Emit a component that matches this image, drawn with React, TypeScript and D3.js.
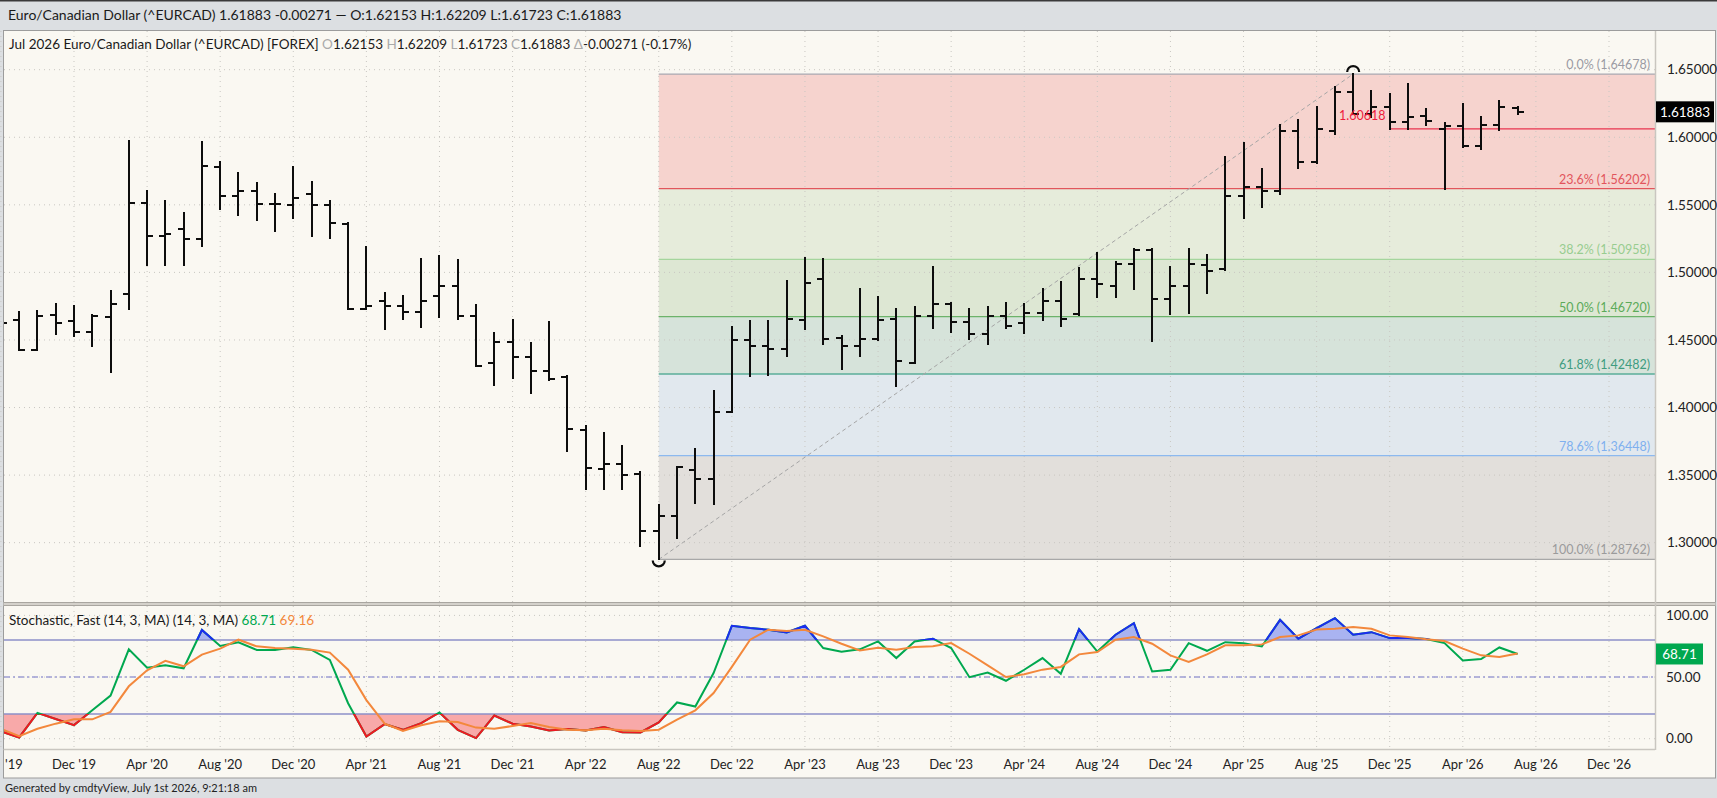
import React from 'react';
import * as d3 from 'd3';

// monthly bars, Aug 2019 .. Jul 2026
const firstBar = new Date(Date.UTC(2019, 7, 1));
const afterLastBar = new Date(Date.UTC(2026, 7, 1));

const openP = [
  1.4700, 1.4650, 1.4429, 1.4687, 1.4638, 1.4557, 1.4670, 1.4842, 1.5512, 1.5266, 1.5320, 1.5249,
  1.5783, 1.5567, 1.5606, 1.5505, 1.5500, 1.5581, 1.5500, 1.5360, 1.4729, 1.4786, 1.4754, 1.4704,
  1.4823, 1.4897, 1.4680, 1.4328, 1.4488, 1.4372, 1.4273, 1.4224, 1.3837, 1.3547, 1.3581, 1.3507,
  1.3089, 1.3197, 1.3535, 1.3468, 1.3966, 1.4499, 1.4454, 1.4435, 1.4647, 1.4949, 1.4516, 1.4454,
  1.4504, 1.4652, 1.4331, 1.4677, 1.4769, 1.4632, 1.4541, 1.4677, 1.4627, 1.4697, 1.4788, 1.4689,
  1.4954, 1.4900, 1.5060, 1.5168, 1.4800, 1.4900, 1.5055, 1.5023, 1.5566, 1.5633, 1.5603, 1.6043,
  1.5820, 1.6048, 1.6337, 1.6171, 1.6221, 1.6110, 1.6159, 1.6060, 1.6085, 1.5937, 1.6092, 1.62153,
];
const highP = [
  1.4760, 1.4704, 1.4711, 1.4766, 1.4749, 1.4687, 1.4860, 1.5975, 1.5606, 1.5525, 1.5443, 1.5968,
  1.5818, 1.5734, 1.5665, 1.5581, 1.5778, 1.5672, 1.5532, 1.5365, 1.5187, 1.4845, 1.4823, 1.5099,
  1.5118, 1.5094, 1.4759, 1.4552, 1.4648, 1.4478, 1.4635, 1.4232, 1.3867, 1.3810, 1.3714, 1.3522,
  1.3276, 1.3559, 1.3695, 1.4126, 1.4594, 1.4640, 1.4640, 1.4937, 1.5110, 1.5098, 1.4533, 1.4880,
  1.4820, 1.4731, 1.4746, 1.5043, 1.4776, 1.4731, 1.4746, 1.4776, 1.4764, 1.4880, 1.4929, 1.5036,
  1.5146, 1.5079, 1.5172, 1.5172, 1.5040, 1.5173, 1.5130, 1.5855, 1.5961, 1.5764, 1.6092, 1.6127,
  1.6226, 1.6369, 1.64678, 1.6344, 1.6320, 1.6394, 1.6208, 1.6102, 1.6245, 1.6152, 1.6270, 1.62209,
];
const lowP = [
  1.4560, 1.4429, 1.4429, 1.4547, 1.4532, 1.4453, 1.4264, 1.4729, 1.5052, 1.5057, 1.5057, 1.5197,
  1.5468, 1.5426, 1.5389, 1.5310, 1.5399, 1.5266, 1.5256, 1.4729, 1.4729, 1.4584, 1.4655, 1.4599,
  1.4668, 1.4655, 1.4305, 1.4170, 1.4217, 1.4108, 1.4204, 1.3682, 1.3399, 1.3394, 1.3399, 1.2975,
  1.28762, 1.3034, 1.3296, 1.3288, 1.3966, 1.4237, 1.4242, 1.4385, 1.4583, 1.4467, 1.4286, 1.4385,
  1.4500, 1.4162, 1.4326, 1.4590, 1.4558, 1.4504, 1.4467, 1.4590, 1.4553, 1.4647, 1.4603, 1.4682,
  1.4818, 1.4815, 1.4875, 1.4492, 1.4690, 1.4700, 1.4850, 1.5015, 1.5400, 1.5484, 1.5578, 1.5776,
  1.5813, 1.6023, 1.6171, 1.6151, 1.60618, 1.6062, 1.6092, 1.56202, 1.5929, 1.5912, 1.6053, 1.61723,
];
const closeP = [
  1.4626, 1.4429, 1.4675, 1.4626, 1.4557, 1.4675, 1.4766, 1.5512, 1.5266, 1.5286, 1.5246, 1.5788,
  1.5567, 1.5606, 1.5505, 1.5505, 1.5549, 1.5500, 1.5369, 1.4729, 1.4749, 1.4752, 1.4704, 1.4791,
  1.4897, 1.4675, 1.4305, 1.4488, 1.4372, 1.4273, 1.4212, 1.3842, 1.3552, 1.3581, 1.3503, 1.3089,
  1.3197, 1.3559, 1.3473, 1.3966, 1.4500, 1.4454, 1.4430, 1.4657, 1.4924, 1.4509, 1.4454, 1.4504,
  1.4647, 1.4343, 1.4677, 1.4769, 1.4632, 1.4541, 1.4677, 1.4603, 1.4697, 1.4788, 1.4657, 1.4954,
  1.4912, 1.5060, 1.5168, 1.4800, 1.4900, 1.5059, 1.5010, 1.5566, 1.5633, 1.5603, 1.6043, 1.5820,
  1.6060, 1.6337, 1.6171, 1.6221, 1.6110, 1.6147, 1.6122, 1.6085, 1.5937, 1.6092, 1.6226, 1.61883,
];

// Stochastic fast (14,3,MA): %K and %D
const stochK = [
  6, 1, 21, 16, 11, 23, 35, 72.5, 57.6, 59.5, 57.1, 88.2,
  75.2, 78.2, 72, 72, 74.1, 72, 63.9, 28.8, 1.8, 11.8, 7.2, 12.6,
  21.3, 7.2, 0.5, 18.8, 12.1, 9.9, 6.7, 7.8, 6.7, 9.4, 5.3, 5.1,
  13.2, 29.4, 26.1, 53.2, 91.6, 89.7, 88.4, 86.2, 91.6, 73.5, 70.5, 72.5,
  78.9, 65.4, 78.9, 81.1, 73.5, 49.9, 53.7, 47.0, 55.9, 65.4, 52.7, 88.8,
  70.7, 84.3, 93.7, 54.5, 55.9, 77.5, 71.3, 78.3, 77.5, 74.8, 96.4, 81.1,
  89.7, 97.8, 84.3, 86.4, 81.6, 81.6, 80.8, 77.5, 63.5, 64.6, 74.0, 68.71,
];
const stochD = [
  8, 2, 8.1, 12.2, 15.7, 15.7, 21.7, 42.5, 55.5, 63.1, 58.7, 68.2,
  73.0, 80.3, 74.9, 73.6, 73.0, 72.2, 69.8, 56, 31.3, 12.2, 6.3, 10.9,
  14.1, 13.6, 9, 8.1, 10.3, 12.7, 9.5, 7.3, 6.8, 8.1, 6.8, 6.3,
  7.3, 15.4, 23, 37, 58.2, 80.3, 88.4, 87.3, 88.4, 83, 77, 71.6,
  73.8, 72.2, 74.3, 74.9, 77.6, 68.9, 59.5, 50.0, 52.2, 56, 58.2, 68.4,
  70.3, 80.3, 82.4, 77, 67.6, 62.2, 68.4, 75.7, 75.7, 76.5, 82.4, 83.8,
  88.6, 89.2, 90.5, 89.2, 83.8, 82.4, 80.6, 79.2, 73, 67.6, 66.3, 69.16,
];

const xTickLabels = [
  "Aug '19", "Dec '19", "Apr '20", "Aug '20", "Dec '20", "Apr '21", "Aug '21", "Dec '21",
  "Apr '22", "Aug '22", "Dec '22", "Apr '23", "Aug '23", "Dec '23", "Apr '24", "Aug '24",
  "Dec '24", "Apr '25", "Aug '25", "Dec '25", "Apr '26", "Aug '26", "Dec '26",
];
const priceTicks = [1.30, 1.35, 1.40, 1.45, 1.50, 1.55, 1.60, 1.65];
const stochTicks = [0, 50, 100];

const fibLevels = [0, 0.236, 0.382, 0.5, 0.618, 0.786, 1];
const fibLow = 1.28762;
const fibHigh = 1.64678;
const fibLowMonth = '2022-08';
const fibHighMonth = '2025-10';
const markLevel = 1.60618;
const markMonth = '2025-12';

const fibLineColors = ['#a8a8b2', '#e2555c', '#a5d59d', '#6cb36a', '#5aae98', '#8cb9ef', '#a8a8a8'];
const fibTextColors = ['#9b9ba3', '#e2555c', '#98cc90', '#5baa59', '#3f9c80', '#7fb0ee', '#9b9b9b'];
const fibFills = ['#f6d3ce', '#e6ecdb', '#dde7d3', '#d6e3da', '#e1e8ee', '#e2dfdb'];

const W = 1717;
const H = 798;
const plotL = 4;
const plotR = 1655;
const priceTop = 31;
const priceBottom = 602;
const stochTop = 606;
const stochBottom = 749;
const frameBottom = 778;

const font = 'Lato, "Open Sans", sans-serif';

const monthIdx = (d: Date) => (d.getUTCFullYear() - 2019) * 12 + d.getUTCMonth() - 11; // Dec 2019 = 0
const keyIdx = (k: string) => monthIdx(new Date(k + '-01T00:00:00Z'));

const App = () => {
  const barDates = d3.utcMonth.range(firstBar, afterLastBar);
  const bars = barDates.map((d, i) => ({
    i: monthIdx(d), o: openP[i], h: highP[i], l: lowP[i], c: closeP[i], k: stochK[i], dd: stochD[i],
  }));

  const x = d3.scaleLinear().domain([0, 84]).range([74, 1609]);
  const y = d3.scaleLinear().domain([1.65, 1.35]).range([69.7, 475.1]);
  const ys = d3.scaleLinear().domain([0, 100]).range([738.7, 615.4]);

  const tickIdx = xTickLabels.map((_, i) => -4 + i * 4);

  const fibPrices = fibLevels.map((lv) => fibHigh - lv * (fibHigh - fibLow));
  const fibX0 = x(keyIdx(fibLowMonth));

  const kLine = d3.line<any>().x((d) => x(d.i)).y((d) => ys(d.k));
  const dLine = d3.line<any>().x((d) => x(d.i)).y((d) => ys(d.dd));
  const lowArea = d3.area<any>().x((d) => x(d.i)).y0(ys(20)).y1((d) => ys(d.k));
  const highArea = d3.area<any>().x((d) => x(d.i)).y0(ys(80)).y1((d) => ys(d.k));

  const last = bars[bars.length - 1];
  const lowX = x(keyIdx(fibLowMonth));
  const highX = x(keyIdx(fibHighMonth));
  const arc = d3.arc();
  const cup = arc({ innerRadius: 6, outerRadius: 6, startAngle: Math.PI / 2, endAngle: Math.PI * 1.5 }) as string;
  const cap = arc({ innerRadius: 6, outerRadius: 6, startAngle: -Math.PI / 2, endAngle: Math.PI / 2 }) as string;

  const dotted = { stroke: '#c9c7c2', strokeWidth: 1, strokeDasharray: '1 4' };

  return (
    <svg width={W} height={H} style={{ position: 'absolute', left: 0, top: 0, display: 'block' }} fontFamily={font}>
      <defs>
        <clipPath id="pclip"><rect x={plotL} y={priceTop} width={plotR - plotL} height={priceBottom - priceTop} /></clipPath>
        <clipPath id="sclip"><rect x={plotL} y={stochTop} width={plotR - plotL} height={stochBottom - stochTop} /></clipPath>
        <clipPath id="below20"><rect x={plotL} y={ys(20)} width={plotR - plotL} height={stochBottom - ys(20)} /></clipPath>
        <clipPath id="above80"><rect x={plotL} y={stochTop} width={plotR - plotL} height={ys(80) - stochTop} /></clipPath>
        <clipPath id="xclip"><rect x={plotL} y={stochBottom} width={plotR - plotL} height={frameBottom - stochBottom} /></clipPath>
      </defs>

      {/* page chrome */}
      <rect x={0} y={0} width={W} height={H} fill="#dcdfe2" />
      <rect x={0} y={0} width={W} height={1.5} fill="#3a3a3a" />
      <text x={8} y={20} fontSize={14} fill="#1a1a1a">
        Euro/Canadian Dollar (^EURCAD) 1.61883 -0.00271 — O:1.62153 H:1.62209 L:1.61723 C:1.61883
      </text>
      <rect x={3.5} y={priceTop - 0.5} width={W - 5} height={frameBottom - priceTop + 0.5} fill="#faf8f2" stroke="#9c9c9c" />

      {/* fibonacci bands */}
      <g clipPath="url(#pclip)">
        {fibFills.map((f, i) => (
          <rect key={i} x={fibX0} y={y(fibPrices[i])} width={plotR - fibX0} height={y(fibPrices[i + 1]) - y(fibPrices[i])} fill={f} />
        ))}
      </g>

      {/* grid */}
      {priceTicks.map((p) => (
        <line key={p} x1={plotL} x2={plotR} y1={y(p)} y2={y(p)} {...dotted} />
      ))}
      {stochTicks.map((v) => (
        <line key={v} x1={plotL} x2={plotR} y1={ys(v)} y2={ys(v)} {...dotted} />
      ))}
      {tickIdx.map((t) => (
        <g key={t}>
          <line x1={x(t)} x2={x(t)} y1={priceTop} y2={priceBottom} {...dotted} />
          <line x1={x(t)} x2={x(t)} y1={stochTop} y2={stochBottom} {...dotted} />
        </g>
      ))}

      {/* fibonacci lines + labels */}
      <g clipPath="url(#pclip)">
        {fibPrices.map((p, i) => (
          <g key={i}>
            <line x1={fibX0} x2={plotR} y1={y(p)} y2={y(p)} stroke={fibLineColors[i]} strokeWidth={1.3} />
            <text x={plotR - 5} y={y(p) - 5} textAnchor="end" fontSize={12.5} fill={fibTextColors[i]}>
              {`${(fibLevels[i] * 100).toFixed(1)}% (${p.toFixed(5)})`}
            </text>
          </g>
        ))}
        <line x1={lowX} y1={y(fibLow)} x2={highX} y2={y(fibHigh)} stroke="#a5a5a5" strokeWidth={1} strokeDasharray="4 3" />
        <line x1={x(keyIdx(markMonth))} x2={plotR} y1={y(markLevel)} y2={y(markLevel)} stroke="#e8354f" strokeWidth={1.2} />
      </g>

      {/* OHLC bars */}
      <g clipPath="url(#pclip)" stroke="#0d0d0d" strokeWidth={2}>
        {bars.map((b) => {
          const cx = Math.round(x(b.i));
          const yo = Math.round(y(b.o));
          const yc = Math.round(y(b.c));
          return (
            <g key={b.i}>
              <line x1={cx} x2={cx} y1={Math.round(y(b.h)) - 1} y2={Math.round(y(b.l)) + 1} />
              <line x1={cx - 6} x2={cx} y1={yo} y2={yo} />
              <line x1={cx} x2={cx + 6} y1={yc} y2={yc} />
            </g>
          );
        })}
        <path d={cup} transform={`translate(${lowX},${y(fibLow) + 1})`} fill="none" strokeWidth={2.2} />
        <path d={cap} transform={`translate(${highX},${y(fibHigh) - 2})`} fill="none" strokeWidth={2.2} />
      </g>
      <text x={(highX + x(keyIdx(fibHighMonth) + 1)) / 2} y={120} textAnchor="middle" fontSize={12.5} fill="#ee1c3c">
        {markLevel.toFixed(5)}
      </text>

      {/* subtitle */}
      <text x={9} y={48.5} fontSize={13.5} fill="#1a1a1a">
        Jul 2026 Euro/Canadian Dollar (^EURCAD) [FOREX]{' '}
        <tspan fill="#aaa">O</tspan>{last.o.toFixed(5)}{' '}
        <tspan fill="#aaa">H</tspan>{last.h.toFixed(5)}{' '}
        <tspan fill="#aaa">L</tspan>{last.l.toFixed(5)}{' '}
        <tspan fill="#aaa">C</tspan>{last.c.toFixed(5)}{' '}
        <tspan fill="#aaa">Δ</tspan>-0.00271 (-0.17%)
      </text>

      {/* panel separators */}
      <rect x={3.5} y={priceBottom} width={W - 5} height={stochTop - priceBottom} fill="#d4d1cb" />
      <line x1={3.5} x2={W - 1.5} y1={priceBottom + 0.5} y2={priceBottom + 0.5} stroke="#a9a6a0" />
      <line x1={3.5} x2={W - 1.5} y1={stochTop - 0.5} y2={stochTop - 0.5} stroke="#a9a6a0" />
      <line x1={3.5} x2={plotR} y1={stochBottom + 0.5} y2={stochBottom + 0.5} stroke="#c9c6c0" strokeWidth={1.5} />
      <line x1={plotR + 0.5} x2={plotR + 0.5} y1={priceTop} y2={stochBottom + 1} stroke="#c9c6c0" strokeWidth={1.5} />

      {/* stochastic */}
      <g clipPath="url(#sclip)">
        <path d={lowArea(bars) as string} fill="#f8a9a9" clipPath="url(#below20)" />
        <path d={highArea(bars) as string} fill="#a9b3f1" clipPath="url(#above80)" />
        <line x1={plotL} x2={plotR} y1={ys(80)} y2={ys(80)} stroke="#8d91c9" strokeWidth={1.6} />
        <line x1={plotL} x2={plotR} y1={ys(20)} y2={ys(20)} stroke="#8d91c9" strokeWidth={1.6} />
        <line x1={plotL} x2={plotR} y1={ys(50)} y2={ys(50)} stroke="#9d9dd3" strokeWidth={1.6} strokeDasharray="6 3 2 3" />
        <path d={kLine(bars) as string} fill="none" stroke="#00a84f" strokeWidth={2} />
        <g clipPath="url(#below20)">
          <path d={kLine(bars) as string} fill="none" stroke="#f01822" strokeWidth={2} />
        </g>
        <g clipPath="url(#above80)">
          <path d={kLine(bars) as string} fill="none" stroke="#1c2cf0" strokeWidth={2} />
        </g>
        <path d={dLine(bars) as string} fill="none" stroke="#f3883c" strokeWidth={2} />
      </g>
      <text x={9} y={625} fontSize={13.5} fill="#1a1a1a">
        Stochastic, Fast (14, 3, MA)  (14, 3, MA){' '}
        <tspan fill="#00a84f">{last.k.toFixed(2)}</tspan>{' '}
        <tspan fill="#f3883c">{last.dd.toFixed(2)}</tspan>
      </text>

      {/* price axis */}
      {priceTicks.map((p) => (
        <text key={p} x={1667} y={y(p)} dy="0.35em" fontSize={13.5} fill="#222">{p.toFixed(5)}</text>
      ))}
      <rect x={plotR + 1} y={y(last.c) - 10.5} width={58} height={21} fill="#000" />
      <text x={plotR + 30} y={y(last.c)} dy="0.35em" textAnchor="middle" fontSize={13.5} fill="#fff">{last.c.toFixed(5)}</text>

      {/* stochastic axis */}
      {stochTicks.map((v) => (
        <text key={v} x={1666} y={ys(v)} dy="0.35em" fontSize={13.5} fill="#222">{v.toFixed(2)}</text>
      ))}
      <rect x={plotR + 1} y={ys(last.k) - 10.5} width={47} height={21} fill="#00a84f" />
      <text x={plotR + 24.5} y={ys(last.k)} dy="0.35em" textAnchor="middle" fontSize={13.5} fill="#fff">{last.k.toFixed(2)}</text>

      {/* time axis (first label is cut by the frame, as in the source) */}
      <g clipPath="url(#xclip)">
        {xTickLabels.map((lab, i) => (
          <text key={lab} x={x(tickIdx[i])} y={769} textAnchor="middle" fontSize={13} fill="#222">{lab}</text>
        ))}
      </g>

      <text x={5} y={792} fontSize={11} fill="#222">Generated by cmdtyView, July 1st 2026, 9:21:18 am</text>
    </svg>
  );
};

export default App;
